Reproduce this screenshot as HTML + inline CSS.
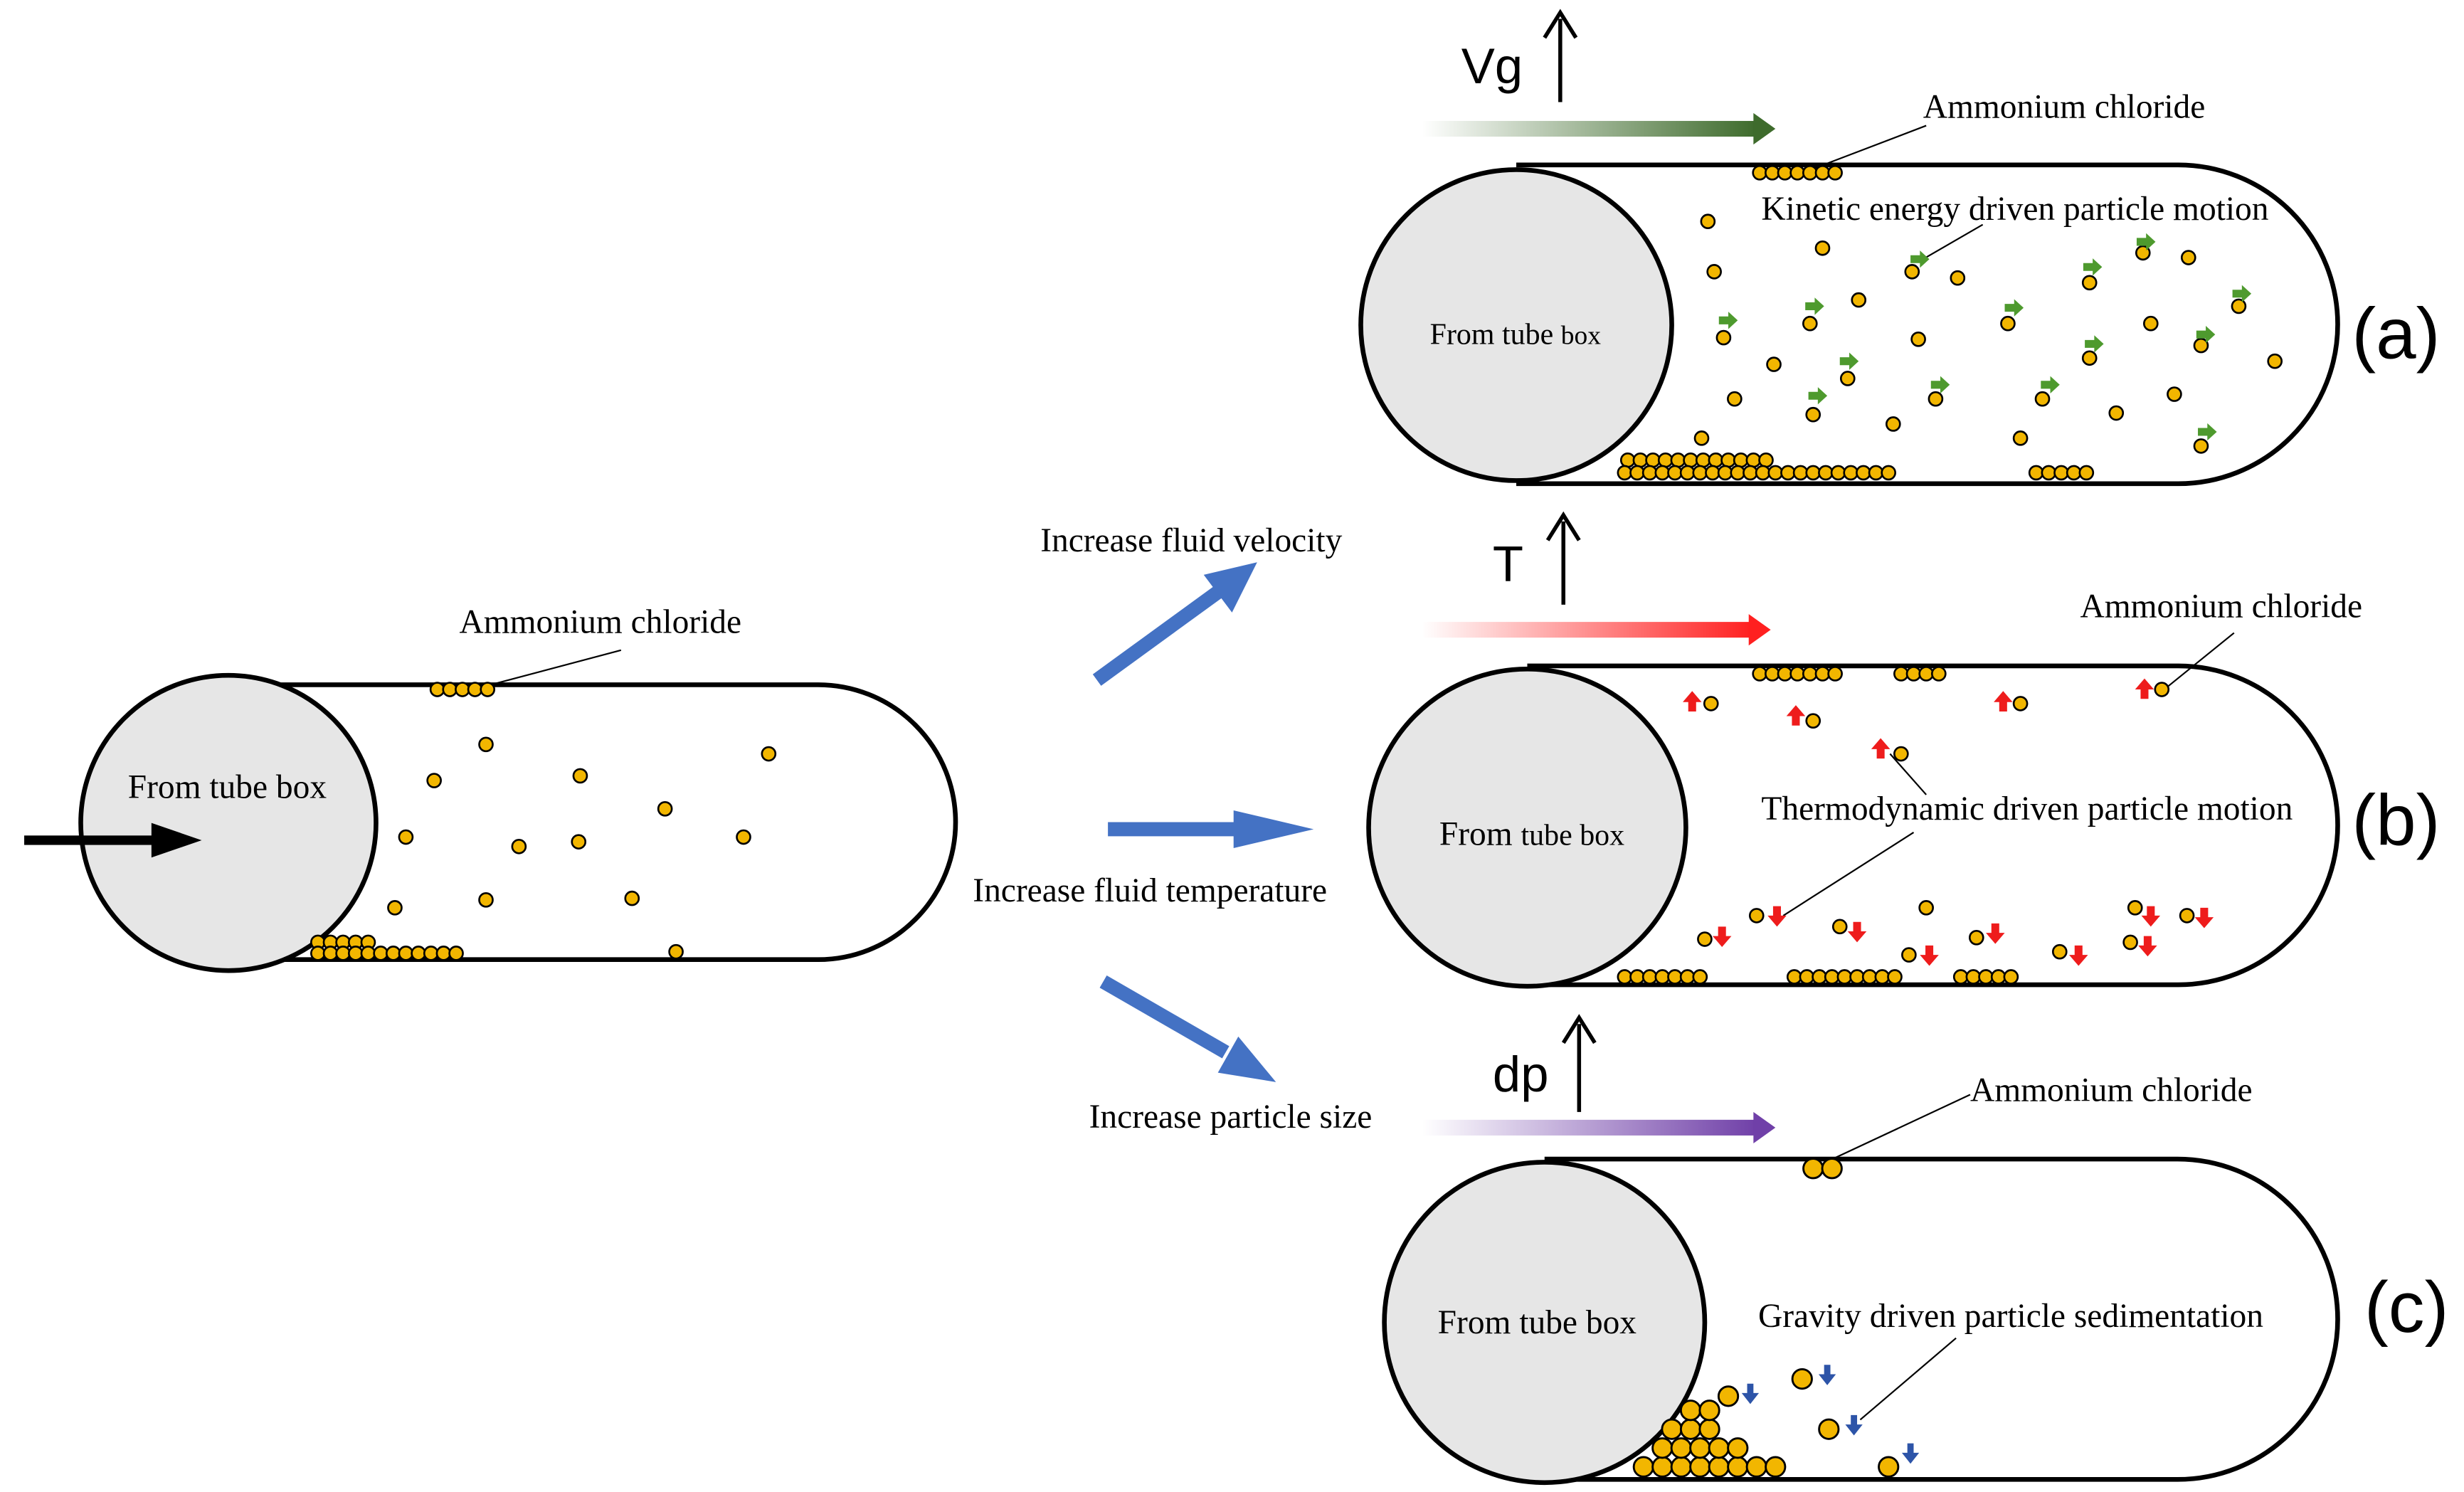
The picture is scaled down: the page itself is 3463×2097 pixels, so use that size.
<!DOCTYPE html>
<html><head><meta charset="utf-8"><style>html,body{margin:0;padding:0;background:#fff}svg{display:block}</style></head>
<body>
<svg width="3463" height="2097" viewBox="0 0 1568 950" xmlns="http://www.w3.org/2000/svg">
<defs>
<linearGradient id="gg" x1="0" x2="1"><stop offset="0" stop-color="#3e6b2c" stop-opacity="0"/><stop offset="1" stop-color="#3e6b2c"/></linearGradient>
<linearGradient id="gr" x1="0" x2="1"><stop offset="0" stop-color="#ff2020" stop-opacity="0"/><stop offset="1" stop-color="#ff2020"/></linearGradient>
<linearGradient id="gp" x1="0" x2="1"><stop offset="0" stop-color="#7040a8" stop-opacity="0"/><stop offset="1" stop-color="#7040a8"/></linearGradient>
<g id="p"><circle r="4.3" fill="#f2b600" stroke="#000" stroke-width="1.2"/></g>
<g id="P"><circle r="6.2" fill="#f2b600" stroke="#000" stroke-width="1.3"/></g>
<g id="ga"><path d="M-6,-2.5 h6 v-3 l6,5.5 l-6,5.5 v-3 h-6z" fill="#4e9a2e"/></g>
<g id="ru"><path d="M-2.5,7 v-6 h-3.5 l6,-7 l6,7 h-3.5 v6z" fill="#ee1c1c"/></g>
<g id="rd"><path d="M-2.5,-7 v6 h-3.5 l6,7 l6,-7 h-3.5 v-6z" fill="#ee1c1c"/></g>
<g id="bd"><path d="M-2,-7 v6 h-3.5 l5.5,7 l5.5,-7 h-3.5 v-6z" fill="#2d54a8"/></g>
</defs>
<g font-family="Liberation Serif, serif" font-size="21.5" fill="#000">
<!-- left tube -->
<path d="M145,436 H520.5 A87.5,87.5 0 0 1 520.5,611 H145" fill="#fff" stroke="#000" stroke-width="3"/>
<circle cx="145" cy="524" r="94" fill="#e6e6e6" stroke="#000" stroke-width="3"/>
<text x="81" y="508">From tube box</text>
<rect x="15" y="532" width="85" height="6" fill="#000"/>
<path d="M96,524 L128,535 L96,546z" fill="#000"/>
<text x="292" y="403">Ammonium chloride</text>
<line x1="312" y1="436" x2="395" y2="414" stroke="#000" stroke-width="1"/>
<!-- blue arrows -->
<g stroke="#4472c4" stroke-width="9" fill="#4472c4">
<line x1="698" y1="433" x2="775" y2="377"/>
<line x1="705" y1="528" x2="790" y2="528"/>
<line x1="702" y1="625" x2="780" y2="670"/>
</g>
<path d="M800,358 L784,390 L766,366z" fill="#4472c4"/>
<path d="M836,528 L785,540 L785,516z" fill="#4472c4"/>
<path d="M812,689 L775,683 L788,660z" fill="#4472c4"/>
<text x="662" y="351">Increase fluid velocity</text>
<text x="619" y="574">Increase fluid temperature</text>
<text x="693" y="718">Increase particle size</text>

<!-- tube a -->
<path d="M965,105 H1386.5 A101.5,101.5 0 0 1 1386.5,308 H965" fill="#fff" stroke="#000" stroke-width="3"/>
<circle cx="965" cy="207" r="99" fill="#e6e6e6" stroke="#000" stroke-width="3"/>
<text x="910" y="219" font-size="19">From tube <tspan font-size="17">box</tspan></text>
<text x="1497" y="228" font-family="Liberation Sans, sans-serif" font-size="46">(a)</text>
<text x="930" y="53" font-family="Liberation Sans, sans-serif" font-size="32">Vg</text>
<line x1="993" y1="65" x2="993" y2="12" stroke="#000" stroke-width="2.5"/><path d="M983,24 L993,8 L1003,24" fill="none" stroke="#000" stroke-width="2.5"/>
<rect x="905" y="77" width="213" height="10" fill="url(#gg)"/><path d="M1116,72 L1130,82 L1116,92z" fill="#3e6b2c"/>
<text x="1224" y="75">Ammonium chloride</text>
<line x1="1150" y1="109" x2="1226" y2="80" stroke="#000" stroke-width="1"/>
<text x="1121" y="140">Kinetic energy driven particle motion</text>
<line x1="1224" y1="165" x2="1262" y2="143" stroke="#000" stroke-width="1"/>

<!-- tube b -->
<path d="M972,424 H1386.5 A101.5,101.5 0 0 1 1386.5,627 H972" fill="#fff" stroke="#000" stroke-width="3"/>
<circle cx="972" cy="527" r="101" fill="#e6e6e6" stroke="#000" stroke-width="3"/>
<text x="916" y="538">From <tspan font-size="19">tube box</tspan></text>
<text x="1497" y="538" font-family="Liberation Sans, sans-serif" font-size="46">(b)</text>
<text x="950" y="370" font-family="Liberation Sans, sans-serif" font-size="32">T</text>
<line x1="995" y1="385" x2="995" y2="332" stroke="#000" stroke-width="2.5"/><path d="M985,344 L995,328 L1005,344" fill="none" stroke="#000" stroke-width="2.5"/>
<rect x="905" y="396" width="210" height="10" fill="url(#gr)"/><path d="M1113,391 L1127,401 L1113,411z" fill="#ff2020"/>
<text x="1324" y="393">Ammonium chloride</text>
<line x1="1380" y1="437" x2="1422" y2="403" stroke="#000" stroke-width="1"/>
<text x="1121" y="522">Thermodynamic driven particle motion</text>
<line x1="1203" y1="480" x2="1226" y2="506" stroke="#000" stroke-width="1"/>
<line x1="1135" y1="583" x2="1218" y2="530" stroke="#000" stroke-width="1"/>

<!-- tube c -->
<path d="M983,738 H1386 A102,102 0 0 1 1386,942 H983" fill="#fff" stroke="#000" stroke-width="3"/>
<circle cx="983" cy="842" r="102" fill="#e6e6e6" stroke="#000" stroke-width="3"/>
<text x="915" y="849">From tube box</text>
<text x="1505" y="848" font-family="Liberation Sans, sans-serif" font-size="46">(c)</text>
<text x="950" y="695" font-family="Liberation Sans, sans-serif" font-size="32">dp</text>
<line x1="1005" y1="708" x2="1005" y2="652" stroke="#000" stroke-width="2.5"/><path d="M995,664 L1005,648 L1015,664" fill="none" stroke="#000" stroke-width="2.5"/>
<rect x="905" y="713" width="213" height="10" fill="url(#gp)"/><path d="M1116,708 L1130,718 L1116,728z" fill="#7040a8"/>
<text x="1254" y="701">Ammonium chloride</text>
<line x1="1162" y1="740" x2="1254" y2="697" stroke="#000" stroke-width="1"/>
<text x="1119" y="845">Gravity driven particle sedimentation</text>
<line x1="1184" y1="904" x2="1245" y2="852" stroke="#000" stroke-width="1"/>
</g>
<g id="parts"></g>
<script>
var ns="http://www.w3.org/2000/svg",g=document.getElementById('parts');
function u(id,x,y){var e=document.createElementNS(ns,'use');e.setAttribute('href','#'+id);e.setAttribute('x',x);e.setAttribute('y',y);g.appendChild(e);}
function row(id,x0,x1,y,s){for(var x=x0;x<=x1+0.1;x+=s)u(id,x,y);}
row('p',278,310,439,8);row('p',202,238,600,8);row('p',202,294,607,8);
[[309,474],[276,497],[369,494],[489,480],[423,515],[258,533],[330,539],[368,536],[473,533],[309,573],[402,572],[251,578],[430,606]].forEach(function(a){u('p',a[0],a[1])});
row('p',1120,1170,110,8);row('p',1036,1130,293,8);row('p',1034,1202,301,8);row('p',1296,1330,301,8);
[[1087,141],[1160,158],[1091,173],[1217,173],[1246,177],[1330,180],[1364,161],[1393,164],[1425,195],[1183,191],[1097,215],[1152,206],[1221,216],[1278,206],[1330,228],[1369,206],[1401,220],[1448,230],[1129,232],[1176,241],[1232,254],[1104,254],[1154,264],[1205,270],[1300,254],[1347,263],[1384,251],[1286,279],[1401,284],[1083,279]].forEach(function(a){u('p',a[0],a[1])});
[[1222,165],[1366,154],[1332,170],[1100,204],[1155,195],[1282,196],[1333,219],[1404,213],[1427,187],[1177,230],[1235,245],[1157,252],[1305,245],[1405,275]].forEach(function(a){u('ga',a[0],a[1])});
row('p',1120,1172,429,8);row('p',1210,1240,429,8);row('p',1034,1088,622,8);row('p',1142,1206,622,8);row('p',1248,1286,622,8);
[[1089,448],[1154,459],[1210,480],[1286,448],[1376,439],[1118,583],[1085,598],[1171,590],[1226,578],[1215,608],[1258,597],[1311,606],[1359,578],[1392,583],[1356,600]].forEach(function(a){u('p',a[0],a[1])});
[[1077,446],[1143,455],[1197,476],[1275,446],[1365,438]].forEach(function(a){u('ru',a[0],a[1])});
[[1131,584],[1096,597],[1182,594],[1228,609],[1270,595],[1323,609],[1369,584],[1403,585],[1367,603]].forEach(function(a){u('rd',a[0],a[1])});
u('P',1154,744);u('P',1166,744);
row('P',1046,1130,934,12);row('P',1058,1106,922,12);row('P',1064,1088,910,12);u('P',1076,898);u('P',1088,898);
[[1100,889],[1147,878],[1164,910],[1202,934]].forEach(function(a){u('P',a[0],a[1])});
[[1114,888],[1163,876],[1180,908],[1216,926]].forEach(function(a){u('bd',a[0],a[1])});
</script>
</svg>
</body></html>
